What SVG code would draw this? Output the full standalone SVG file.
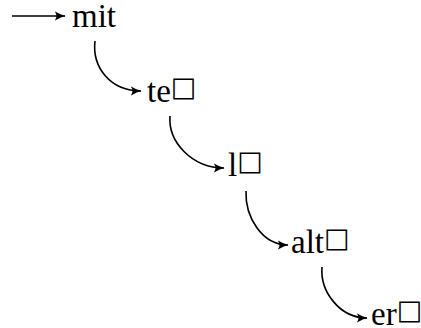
<svg xmlns="http://www.w3.org/2000/svg" width="421" height="328" viewBox="0 0 421 328">
<defs>
<marker id="ah" viewBox="0 0 10 10" refX="9.5" refY="5" markerWidth="11" markerHeight="11" markerUnits="userSpaceOnUse" orient="auto">
<path d="M0,0.6 Q6,4.1 10,5 Q6,5.9 0,9.4 Q3.5,5 0,0.6 Z" fill="#000"/>
</marker>
<style>
.t{font-family:"Liberation Serif","Times New Roman",serif;font-size:33px;fill:#000}
.sq{font-family:"DejaVu Sans",sans-serif;font-size:27px}
.e{fill:none;stroke:#000;stroke-width:1.6;marker-end:url(#ah)}
</style>
</defs>
<rect width="421" height="328" fill="#fff"/>
<g id="edges">
<path class="e" d="M12,16 L65,16"/>
<path class="e" d="M95,41 C92,67 110,91 141,91"/>
<path class="e" d="M170,116 C168,142 192,168 224,168"/>
<path class="e" d="M246,191 C245,217 262,245 288,245"/>
<path class="e" d="M322,267 C320,292 340,318 367,318"/>
</g>
<g id="n1"><text class="t" x="72" y="27">mit</text></g>
<g id="n2"><text class="t" x="147" y="102">te<tspan class="sq" dy="-6">□</tspan></text></g>
<g id="n3"><text class="t" x="228" y="176">l<tspan class="sq" dy="-6">□</tspan></text></g>
<g id="n4"><text class="t" x="291" y="253">alt<tspan class="sq" dy="-6">□</tspan></text></g>
<g id="n5"><text class="t" x="371" y="325">er<tspan class="sq" dy="-6">□</tspan></text></g>
</svg>
